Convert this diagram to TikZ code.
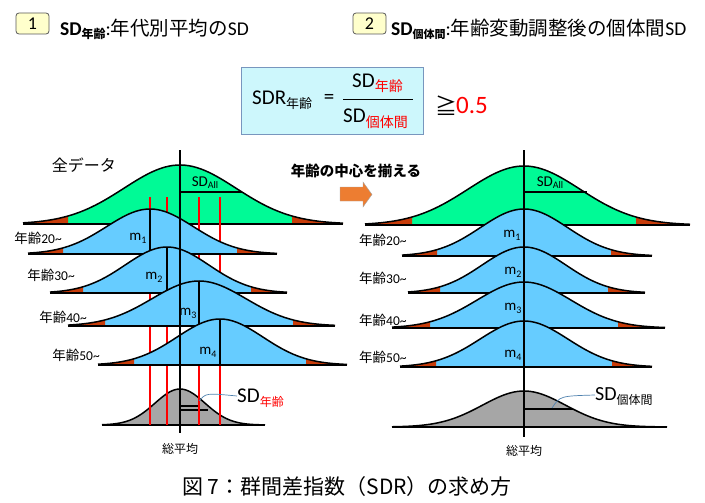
\documentclass[tikz,border=0pt]{standalone}
\usepackage{fontspec}
\setmainfont{Carlito}
\newfontfamily\jp{Noto Sans CJK JP}
\usetikzlibrary{positioning}
\definecolor{cgreen}{RGB}{0,250,150}
\definecolor{cblue}{RGB}{102,204,255}
\definecolor{cgray}{RGB}{166,166,166}
\definecolor{ctail}{RGB}{200,60,10}
\definecolor{cred}{RGB}{255,0,0}
\definecolor{corange}{RGB}{237,125,49}
\definecolor{cbox}{RGB}{255,255,204}
\definecolor{cfrm}{RGB}{205,247,252}
\definecolor{cfrmline}{RGB}{120,150,190}
\definecolor{clead}{RGB}{80,130,175}
\tikzset{
  curve/.style = {line width=1.5pt, line join=round},
  base/.style = {line width=1.5pt},
  axis/.style = {line width=1.6pt},
  mline/.style = {line width=1.2pt},
  sdline/.style = {line width=1.4pt},
  redline/.style = {draw=cred, line width=1.4pt},
  lead/.style = {clead, line width=0.7pt},
  numbox/.style = {rectangle, rounded corners=3pt, draw=black!65, fill=cbox, line width=0.8pt, minimum width=33pt, minimum height=21pt, inner sep=0pt, font=\fontsize{18}{18}\selectfont},
  head/.style = {inner sep=0pt, font=\fontsize{19.5}{21}\selectfont},
  age/.style = {inner sep=0pt, font=\fontsize{13.5}{15}\selectfont},
  mean/.style = {inner sep=0pt, font=\fontsize{15}{16}\selectfont},
  small/.style = {inner sep=0pt, font=\fontsize{12}{13}\selectfont},
  big/.style = {inner sep=0pt, font=\fontsize{21}{22}\selectfont},
}
% lowered small text (subscripts)
\newcommand{\lowtxt}[3]{\raisebox{-#1}{\fontsize{#2}{#2}\selectfont #3}}
% bell curve: centre, base y, height, sigma, fill, tail fill, left end, right end
\newcommand{\bell}[8]{%
  \fill[#5] ({#1-2*#4},#2) -- plot[domain={-2*#4}:{2*#4}, samples=50] ({#1+\x},{#2-#3*exp(-0.5*(\x/#4)*(\x/#4))}) -- ({#1+2*#4},#2) -- cycle;
  \fill[#6] (#7,#2) -- plot[domain={#7-#1}:{-2*#4}, samples=15] ({#1+\x},{#2-#3*exp(-0.5*(\x/#4)*(\x/#4))}) -- ({#1-2*#4},#2) -- cycle;
  \fill[#6] ({#1+2*#4},#2) -- plot[domain={2*#4}:{#8-#1}, samples=15] ({#1+\x},{#2-#3*exp(-0.5*(\x/#4)*(\x/#4))}) -- (#8,#2) -- cycle;
  \draw[curve] plot[domain={#7-#1}:{#8-#1}, samples=80] ({#1+\x},{#2-#3*exp(-0.5*(\x/#4)*(\x/#4))});
  \draw[base] (#7,#2) -- (#8,#2);
}

\begin{document}
\begin{tikzpicture}[x=1pt, y=-1pt]
  \useasboundingbox (0,0) rectangle (705,503);

  % headers
  \node[numbox] (n1) at (32.5,23.5) {1};
  \node[head, anchor=base west] (h1) at (60,36) {\bfseries SD\lowtxt{3pt}{12}{\jp\bfseries 年齢}{\mdseries :{\jp 年代別平均の}SD}};
  \node[numbox] (n2) at (369.5,23.5) {2};
  \node[head, anchor=base west] (h2) at (391,36) {\bfseries SD\lowtxt{3pt}{11}{\jp\bfseries 個体間}{\mdseries :{\jp 年齢変動調整後の個体間}SD}};

  % formula
  \node[draw=cfrmline, fill=cfrm, line width=0.8pt, minimum width=182pt, minimum height=67pt] (frm) at (332,100.5) {};
  \node[big, anchor=base west] (sdr) at (252,105) {SDR\lowtxt{4pt}{13}{\jp 年齢}};
  \node[big] (eq) at (329,99) {=};
  \node[big, anchor=base west] (num) at (352,88) {SD\lowtxt{4pt}{14}{\color{red}\jp 年齢}};
  \node[big, anchor=base west] (den) at (343,123) {SD\lowtxt{5pt}{14}{\color{red}\jp 個体間}};
  \coordinate (barL) at (343,100);
  \coordinate (barR) at (413,100);
  \draw[line width=1pt] (barL) -- (barR);
  \node[inner sep=0pt, font=\fontsize{22}{22}\selectfont] (geq) at (446,106) {\jp ≧};
  \node[inner sep=0pt, anchor=west, red, font=\fontsize{25}{25}\selectfont] (thr) at (456,105) {0.5};

  % left panel
  \bell{180}{224}{59}{56}{cgreen}{ctail}{23}{343}
  \draw[sdline] (180,192) -- (242,192);
  \bell{180}{425}{36}{25}{cgray}{cgray}{102}{265}
  \draw[sdline] (180,406) -- (198,406);
  \draw[sdline] (180,410) -- (208,410);
  \draw[redline] (150,197) -- (150,425);
  \draw[redline] (167,197) -- (167,425);
  \draw[redline] (199,197) -- (199,425);
  \draw[redline] (220,197) -- (220,425);
  \bell{150}{254}{45}{43.5}{cblue}{ctail}{28}{277}
  \draw[mline] (150,209) -- (150,254);
  \bell{167}{293}{46}{42}{cblue}{ctail}{50}{287}
  \draw[mline] (167,247) -- (167,293);
  \bell{199}{326}{45}{47}{cblue}{ctail}{68}{335}
  \draw[mline] (199,281) -- (199,326);
  \bell{220}{365}{46}{43}{cblue}{ctail}{98}{347}
  \draw[mline] (220,319) -- (220,365);
  \coordinate (topL) at (180,150);
  \coordinate (botL) at (180,433);
  \draw[axis] (topL) -- (botL);

  \node[inner sep=0pt, font=\fontsize{16}{17}\selectfont] (allL) at (84,165) {\jp 全データ};
  \node[mean] (sdAllL) at (205,183) {SD\lowtxt{2pt}{10}{All}};
  \node[age, anchor=east] (a20L) at (62,238) {{\jp 年齢}20\textasciitilde};
  \node[age, anchor=east] (a30L) at (75,275) {{\jp 年齢}30\textasciitilde};
  \node[age, anchor=east] (a40L) at (87,317) {{\jp 年齢}40\textasciitilde};
  \node[age, anchor=east] (a50L) at (100,355) {{\jp 年齢}50\textasciitilde};
  \node[mean] (m1L) at (138,238) {m\lowtxt{3pt}{10}{1}};
  \node[mean] (m2L) at (154,277) {m\lowtxt{3pt}{10}{2}};
  \node[mean] (m3L) at (188,313) {m\lowtxt{3pt}{10}{3}};
  \node[mean] (m4L) at (208,352) {m\lowtxt{3pt}{10}{4}};
  \node[small, below=10pt of botL] (meanL) {\jp 総平均};
  \node[big, anchor=base west] (sdage) at (237,402) {SD\lowtxt{4pt}{12}{\color{red}\jp 年齢}};
  \coordinate (ldL) at (199,401);
  \draw[lead] (ldL) .. controls (206,393) .. ([yshift=6pt]sdage.base west);

  % arrow
  \node[inner sep=0pt, font=\fontsize{14.5}{15}\selectfont] (shift) at (356,171) {\jp\bfseries 年齢の中心を揃える};
  \fill[corange, draw=black!35] (340,187) -- (363,187) -- (363,182) -- (372,194.5) -- (363,207) -- (363,201) -- (340,201) -- cycle;

  % right panel
  \bell{524}{225}{59}{56}{cgreen}{ctail}{365}{690}
  \draw[sdline] (524,192) -- (587,192);
  \bell{524}{427}{36}{41.5}{cgray}{cgray}{392}{667}
  \draw[sdline] (524,409) -- (573,409);
  \bell{524}{256}{47}{43.5}{cblue}{ctail}{402}{652}
  \bell{524}{293}{46}{42}{cblue}{ctail}{408}{645}
  \bell{524}{328}{46}{47}{cblue}{ctail}{392}{665}
  \bell{524}{367}{46}{44}{cblue}{ctail}{400}{652}
  \coordinate (topR) at (524,150);
  \coordinate (botR) at (524,437);
  \draw[axis] (topR) -- (botR);

  \node[mean] (sdAllR) at (550,183) {SD\lowtxt{2pt}{10}{All}};
  \node[age, anchor=west] (a20R) at (359,240) {{\jp 年齢}20\textasciitilde};
  \node[age, anchor=west] (a30R) at (359,278) {{\jp 年齢}30\textasciitilde};
  \node[age, anchor=west] (a40R) at (359,320) {{\jp 年齢}40\textasciitilde};
  \node[age, anchor=west] (a50R) at (359,357) {{\jp 年齢}50\textasciitilde};
  \node[mean] (m1R) at (512,235) {m\lowtxt{3pt}{10}{1}};
  \node[mean] (m2R) at (513,272) {m\lowtxt{3pt}{10}{2}};
  \node[mean] (m3R) at (513,308) {m\lowtxt{3pt}{10}{3}};
  \node[mean] (m4R) at (513,355) {m\lowtxt{3pt}{10}{4}};
  \node[small, below=8pt of botR] (meanR) {\jp 総平均};
  \node[inner sep=0pt, anchor=base west, font=\fontsize{20}{21}\selectfont] (sdind) at (595,400) {SD\lowtxt{4pt}{12}{\jp 個体間}};
  \coordinate (ldR) at (552,408);
  \draw[lead] (ldR) .. controls (560,396) .. ([yshift=5pt]sdind.base west);

  % caption
  \node[inner sep=0pt, font=\fontsize{21}{22}\selectfont] (cap) at (347,487) {\jp 図 7：群間差指数（SDR）の求め方};
\end{tikzpicture}
\end{document}
